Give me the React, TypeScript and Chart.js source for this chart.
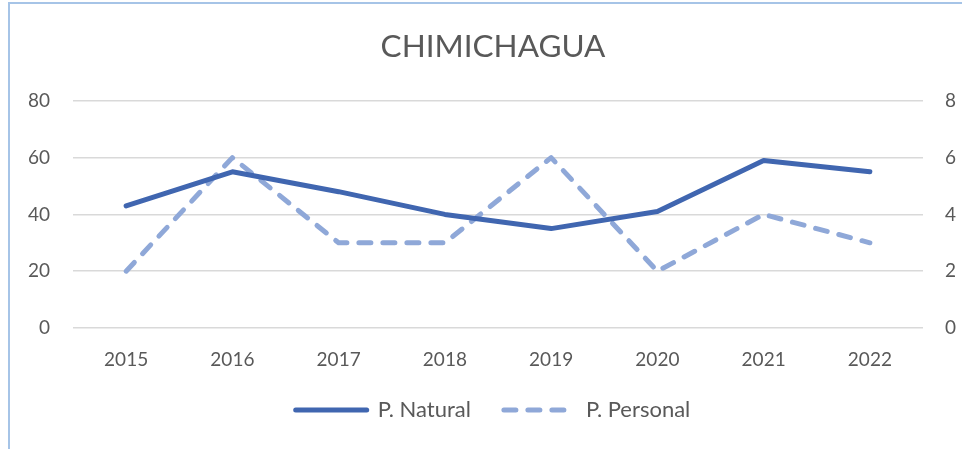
import React, { useEffect, useRef } from "react";
import { Chart, registerables } from "chart.js";

Chart.register(...registerables);

const years = ["2015", "2016", "2017", "2018", "2019", "2020", "2021", "2022"];
const natural = [43, 55, 48, 40, 35, 41, 59, 55];
const personal = [2, 6, 3, 3, 6, 2, 4, 3];
const leftTicks = [0, 20, 40, 60, 80];
const rightTicks = [0, 2, 4, 6, 8];

const FONT = "Lato";
const TEXT = "#595959";
const C_NAT = "#4066B0";
const C_PER = "#8FA8D8";

export default function App() {
  const ref = useRef<HTMLCanvasElement | null>(null);

  useEffect(() => {
    document.body.style.margin = "0";
    const ctx = ref.current!;
    const chart = new Chart(ctx, {
      type: "line",
      data: {
        labels: years,
        datasets: [
          {
            label: "P. Natural",
            data: natural,
            borderColor: C_NAT,
            backgroundColor: C_NAT,
            borderWidth: 5,
            pointRadius: 0,
            tension: 0,
            borderCapStyle: "round",
            borderJoinStyle: "round",
            yAxisID: "y",
          },
          {
            label: "P. Personal",
            data: personal,
            borderColor: C_PER,
            backgroundColor: C_PER,
            borderWidth: 5,
            borderDash: [12, 12],
            pointRadius: 0,
            tension: 0,
            borderCapStyle: "round",
            borderJoinStyle: "round",
            yAxisID: "y1",
          },
        ],
      },
      options: {
        animation: false,
        responsive: false,
        maintainAspectRatio: false,
        layout: { padding: { left: 24, right: 0, top: 0, bottom: 18 } },
        plugins: {
          title: {
            display: true,
            text: "CHIMICHAGUA",
            color: TEXT,
            font: { family: FONT, size: 31.5, weight: "normal" },
            padding: { top: 28, bottom: 35 },
          },
          legend: {
            position: "bottom",
            labels: {
              color: TEXT,
              font: { family: FONT, size: 22 },
              usePointStyle: true,
              boxWidth: 68,
              boxHeight: 19,
              pointStyleWidth: 71,
              padding: 33,
              generateLabels: (c: any) =>
                c.data.datasets.map((ds: any, i: number) => ({
                  text: ds.label,
                  fillStyle: ds.borderColor,
                  strokeStyle: ds.borderColor,
                  lineWidth: 5,
                  lineDash: ds.borderDash || [],
                  lineCap: "round",
                  pointStyle: "line",
                  fontColor: TEXT,
                  hidden: false,
                  datasetIndex: i,
                })),
            },
          },
          tooltip: { enabled: false },
        },
        scales: {
          x: {
            offset: true,
            grid: { display: false, drawTicks: false },
            border: { display: false },
            ticks: { color: TEXT, font: { family: FONT, size: 19 }, padding: 20, maxRotation: 0 },
            afterFit: (s: any) => {
              s.height = 38;
            },
          },
          y: {
            position: "left",
            min: 0,
            max: 80,
            afterBuildTicks: (s: any) => {
              s.ticks = leftTicks.map((v) => ({ value: v }));
            },
            grid: { color: "#D9D9D9", lineWidth: 1.5, drawTicks: false },
            border: { display: false },
            ticks: { color: TEXT, font: { family: FONT, size: 19 }, padding: 23 },
            afterFit: (s: any) => {
              s.width = 49;
            },
          },
          y1: {
            position: "right",
            min: 0,
            max: 8,
            afterBuildTicks: (s: any) => {
              s.ticks = rightTicks.map((v) => ({ value: v }));
            },
            grid: { drawOnChartArea: false, drawTicks: false },
            border: { display: false },
            ticks: { color: TEXT, font: { family: FONT, size: 19 }, padding: 22 },
            afterFit: (s: any) => {
              s.width = 39;
            },
          },
        },
      },
    });
    return () => chart.destroy();
  }, []);

  return (
    <div style={{ position: "absolute", left: 0, top: 0, width: 962, height: 449, background: "#fff" }}>
      <canvas ref={ref} width={962} height={449} style={{ position: "absolute", left: 0, top: 0 }} />
      <div
        style={{
          position: "absolute",
          left: 8,
          top: 2,
          width: 954,
          height: 447,
          borderLeft: "2px solid #A6C4E7",
          borderTop: "2px solid #A6C4E7",
          boxSizing: "border-box",
          pointerEvents: "none",
        }}
      />
    </div>
  );
}
